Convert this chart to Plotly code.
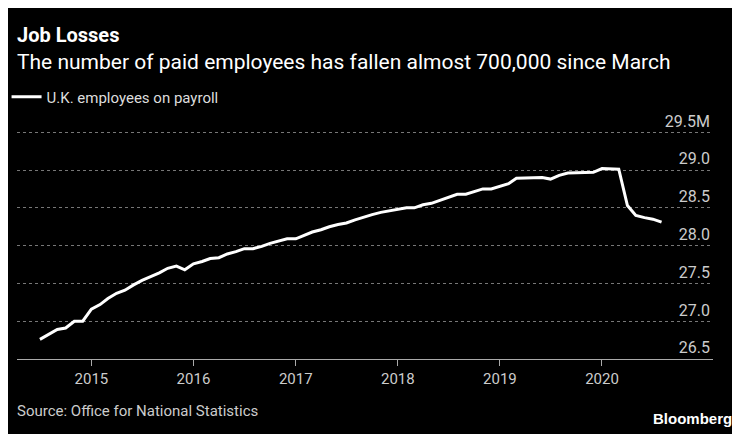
import pandas as pd
import plotly.graph_objects as go

months = pd.date_range('2014-07-01', '2020-08-01', freq='MS')
employees = [
    26.76, 26.83, 26.89, 26.91, 27.00, 27.00,
    27.16, 27.22, 27.30, 27.37, 27.41, 27.48, 27.54, 27.59, 27.64, 27.70, 27.73, 27.68,
    27.76, 27.79, 27.83, 27.84, 27.89, 27.92, 27.96, 27.96, 27.99, 28.03, 28.06, 28.09,
    28.09, 28.14, 28.18, 28.21, 28.25, 28.28, 28.30, 28.34, 28.38, 28.41, 28.44, 28.46,
    28.48, 28.50, 28.50, 28.54, 28.56, 28.60, 28.64, 28.68, 28.68, 28.71, 28.75, 28.75,
    28.78, 28.82, 28.89, 28.89, 28.89, 28.90, 28.88, 28.93, 28.96, 28.96, 28.96, 28.97,
    29.02, 29.02, 29.01, 28.53, 28.40, 28.37, 28.35, 28.31,
]
y_ticks = [26.5, 27.0, 27.5, 28.0, 28.5, 29.0, 29.5]
y_labels = ['26.5', '27.0', '27.5', '28.0', '28.5', '29.0', '29.5M']
x_ticks = ['2015-01-01', '2016-01-01', '2017-01-01', '2018-01-01', '2019-01-01', '2020-01-01']
x_labels = ['2015', '2016', '2017', '2018', '2019', '2020']

FONT = 'Roboto, sans-serif'

fig = go.Figure(go.Scatter(
    x=months, y=employees, mode='lines', name='U.K. employees on payroll',
    line={'color': 'white', 'width': 3},
))

fig.update_layout(
    width=740, height=434,
    paper_bgcolor='black', plot_bgcolor='black',
    margin={'l': 9, 'r': 35, 't': 94, 'b': 83, 'autoexpand': False},
    font={'family': FONT, 'color': '#cccccc', 'size': 15},
    showlegend=True,
    legend={'x': -0.015, 'y': 1.019, 'yanchor': 'middle', 'xanchor': 'left',
            'font': {'size': 15, 'color': '#dddddd'}, 'bgcolor': 'rgba(0,0,0,0)'},
    xaxis={'range': ['2014-04-10', '2021-02-01'], 'tickvals': x_ticks, 'ticktext': x_labels,
           'showgrid': False, 'showline': True, 'linecolor': '#aaaaaa', 'linewidth': 1,
           'ticks': 'outside', 'ticklen': 6, 'tickcolor': '#aaaaaa', 'zeroline': False,
           'tickfont': {'size': 15, 'color': '#cccccc'}},
    yaxis={'range': [26.5, 29.9], 'side': 'right', 'tickvals': y_ticks, 'ticktext': y_labels,
           'ticklabelposition': 'inside top', 'showgrid': True, 'gridcolor': '#777777',
           'griddash': 'dot', 'gridwidth': 1, 'zeroline': False,
           'tickfont': {'size': 16, 'color': '#cccccc'}},
)

fig.add_annotation(text='<b>Job Losses</b>', xref='paper', yref='paper', x=0, y=1.261,
                   xanchor='left', yanchor='middle', showarrow=False,
                   font={'size': 20, 'color': 'white'}, xshift=-2)
fig.add_annotation(text='The number of paid employees has fallen almost 700,000 since March',
                   xref='paper', yref='paper', x=0, y=1.156, xanchor='left', yanchor='middle',
                   showarrow=False, font={'size': 21, 'color': 'white'}, xshift=-2)
fig.add_annotation(text='Source: Office for National Statistics', xref='paper', yref='paper',
                   x=0, y=-0.202, xanchor='left', yanchor='middle', showarrow=False,
                   font={'size': 15, 'color': '#cccccc'}, xshift=-2)
fig.add_annotation(text='<b>Bloomberg</b>', xref='paper', yref='paper', x=1.03, y=-0.23,
                   xanchor='right', yanchor='middle', showarrow=False,
                   font={'size': 15, 'color': 'white', 'family': 'Liberation Sans, Arial'})

fig.write_html('out.html')
